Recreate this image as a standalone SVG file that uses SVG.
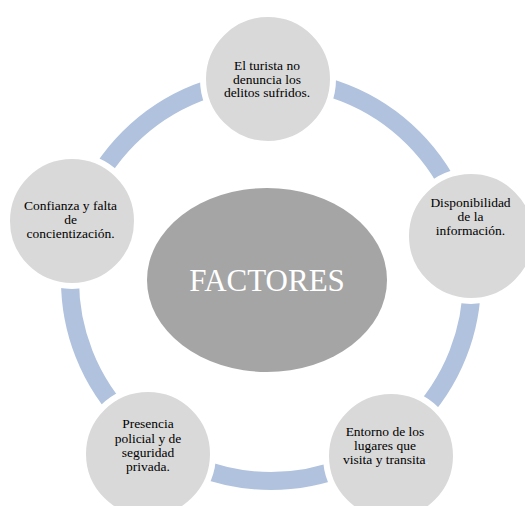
<svg xmlns="http://www.w3.org/2000/svg" width="525" height="506" viewBox="0 0 525 506">
<style>
.ring{fill:none;stroke:#b0c2de;stroke-width:18}
.node{fill:#d9d9d9;stroke:#ffffff;stroke-width:6}
.t{font-family:"Liberation Serif","Times New Roman",serif;font-size:13.5px;fill:#000;text-anchor:middle}
.c{font-family:"Liberation Serif","Times New Roman",serif;font-size:31px;fill:#ffffff;text-anchor:middle}
</style>
<rect width="525" height="506" fill="#ffffff"/>
<g id="connectors">
<circle class="ring" cx="271" cy="280" r="201"/>
</g>
<g id="center">
<ellipse cx="267" cy="280" rx="120" ry="92" fill="#a5a5a5"/>
<text class="c" x="267" y="291">FACTORES</text>
</g>
<g id="n1">
<circle class="node" cx="268" cy="79" r="65"/>
<text class="t" x="267" y="70">El turista no</text>
<text class="t" x="267" y="83.5">denuncia los</text>
<text class="t" x="267" y="97">delitos sufridos.</text>
</g>
<g id="n2">
<circle class="node" cx="471" cy="236" r="65"/>
<text class="t" x="470.5" y="207">Disponibilidad</text>
<text class="t" x="470.5" y="221">de la</text>
<text class="t" x="470.5" y="235">información.</text>
</g>
<g id="n3">
<circle class="node" cx="391" cy="456" r="65"/>
<text class="t" x="385" y="436">Entorno de los</text>
<text class="t" x="385" y="450">lugares que</text>
<text class="t" x="386" y="464">visita y transita<tspan fill="#eeeeee">.</tspan></text>
</g>
<g id="n4">
<circle class="node" cx="148" cy="454" r="65"/>
<text class="t" x="148" y="428">Presencia</text>
<text class="t" x="148" y="443">policial y de</text>
<text class="t" x="148" y="457">seguridad</text>
<text class="t" x="148" y="471">privada.</text>
</g>
<g id="n5">
<circle class="node" cx="72" cy="221" r="65"/>
<text class="t" x="70.5" y="210">Confianza y falta</text>
<text class="t" x="70.5" y="224">de</text>
<text class="t" x="70.5" y="238">concientización.</text>
</g>
</svg>
